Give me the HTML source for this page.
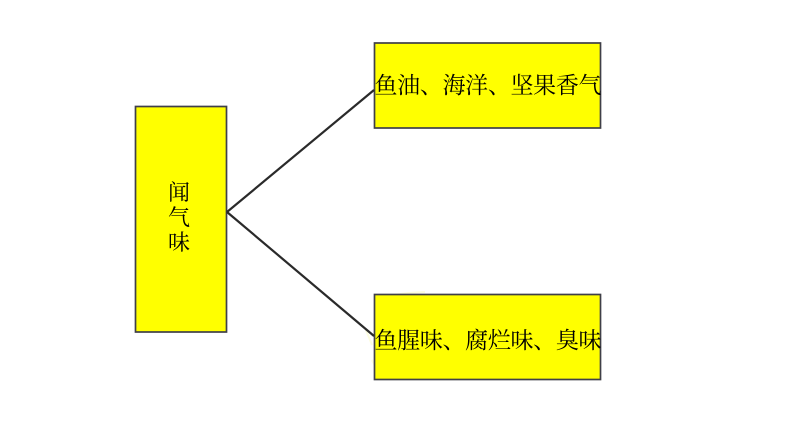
<!DOCTYPE html>
<html>
<head>
<meta charset="utf-8">
<style>
html,body{margin:0;padding:0;background:#fff;}
svg{display:block;}
text{font-family:"Liberation Serif","Noto Serif CJK SC",serif;fill:#000;}
</style>
</head>
<body>
<svg width="790" height="425" viewBox="0 0 790 425" xmlns="http://www.w3.org/2000/svg">
<rect x="0" y="0" width="790" height="425" fill="#fff"/>
<path d="M385 297 Q400 293 425 292 M372 345 L366 330 M372 360 L378 372" stroke="#fdfde0" stroke-width="2" fill="none"/>
<rect x="135.5" y="106.5" width="91" height="225.5" fill="#ffff00" stroke="#3f3f48" stroke-width="1.7"/>
<rect x="374.5" y="43" width="226" height="85" fill="#ffff00" stroke="#3f3f48" stroke-width="1.7"/>
<rect x="374.5" y="294.5" width="226" height="85" fill="#ffff00" stroke="#3f3f48" stroke-width="1.7"/>
<line x1="227" y1="212" x2="374" y2="90" stroke="#2a2a2a" stroke-width="2.2"/>
<line x1="227" y1="212" x2="374" y2="336" stroke="#2a2a2a" stroke-width="2.2"/>
<text x="179" y="200" font-size="22" text-anchor="middle">闻</text>
<text x="179" y="225" font-size="22" text-anchor="middle">气</text>
<text x="179" y="250" font-size="22" text-anchor="middle">味</text>
<text x="374.5" y="93" font-size="23" textLength="227" lengthAdjust="spacing">鱼油、海洋、坚果香气</text>
<text x="374.5" y="348" font-size="23" textLength="227" lengthAdjust="spacing">鱼腥味、腐烂味、臭味</text>
</svg>
</body>
</html>
